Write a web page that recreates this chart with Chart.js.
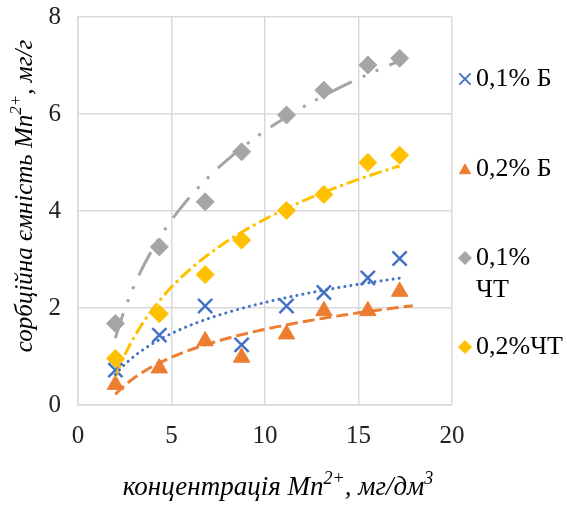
<!DOCTYPE html>
<html>
<head>
<meta charset="utf-8">
<script src="https://cdn.jsdelivr.net/npm/chart.js@4.4.0/dist/chart.umd.min.js"></script>
<style>
  html, body { margin: 0; padding: 0; background: #fff; }
  canvas { display: block; }
</style>
</head>
<body>
<canvas id="sorptionChart" width="567" height="509"></canvas>
<script>
// Mn2+ concentration, mg/dm3
const concentration = [2.0, 4.35, 6.8, 8.75, 11.15, 13.15, 15.5, 17.2];

// sorption capacity, mg/g
const b01  = [0.72, 1.44, 2.04, 1.24, 2.04, 2.32, 2.62, 3.02];
const b02  = [0.42, 0.76, 1.32, 0.98, 1.46, 1.94, 1.94, 2.34];
const ct01 = [1.68, 3.26, 4.19, 5.22, 5.98, 6.49, 7.01, 7.15];
const ct02 = [0.96, 1.88, 2.69, 3.40, 4.01, 4.34, 5.00, 5.15];

const seriesNames = ['0,1% Б', '0,2% Б', '0,1% ЧТ', '0,2%ЧТ'];
const legendLines = [['0,1% Б'], ['0,2% Б'], ['0,1%', 'ЧТ'], ['0,2%ЧТ']];

const xTicks = [0, 5, 10, 15, 20];
const yTicks = [0, 2, 4, 6, 8];

// trendline end points along x (orange one has a short forward forecast)
const trendFrom = [2.0, 2.0, 2.0, 2.0];
const trendTo   = [17.2, 17.9, 17.2, 17.2];

const FONT = '"Liberation Serif", "Times New Roman", serif';

const series = [
  { data: b01,  color: '#4472C4', style: 'crossRot', radius: 10,  dash: [0.1, 6],               cap: 'round' },
  { data: b02,  color: '#ED7D31', style: 'triangle', radius: 9.5, dash: [12, 5],                cap: 'butt' },
  { data: ct01, color: '#A5A5A5', style: 'rectRot',  radius: 9,   dash: [26, 12, 3, 11, 3, 12], cap: 'butt' },
  { data: ct02, color: '#FFC000', style: 'rectRot',  radius: 9,   dash: [13, 4, 3, 4],          cap: 'butt' },
];

// least squares fit y = a + b*ln(x), like a logarithmic trendline
function logFit(xs, ys) {
  const lx = xs.map(Math.log);
  const n = xs.length;
  const mx = lx.reduce((s, v) => s + v, 0) / n;
  const my = ys.reduce((s, v) => s + v, 0) / n;
  let sxy = 0, sxx = 0;
  for (let i = 0; i < n; i++) {
    sxy += (lx[i] - mx) * (ys[i] - my);
    sxx += (lx[i] - mx) * (lx[i] - mx);
  }
  const b = sxy / sxx;
  return { a: my - b * mx, b: b };
}

function trendCurve(fit, x0, x1) {
  const pts = [];
  const steps = 80;
  for (let i = 0; i <= steps; i++) {
    const x = x0 + (x1 - x0) * i / steps;
    pts.push({ x: x, y: fit.a + fit.b * Math.log(x) });
  }
  return pts;
}

const datasets = [];
series.forEach((s, i) => {
  datasets.push({
    label: seriesNames[i],
    data: concentration.map((x, k) => ({ x: x, y: s.data[k] })),
    pointStyle: s.style,
    pointRadius: s.radius,
    pointBackgroundColor: s.color,
    pointBorderColor: s.color,
    pointBorderWidth: s.style === 'crossRot' ? 2.5 : 1,
    showLine: false,
    order: 2,
  });
});
series.forEach((s, i) => {
  const fit = logFit(concentration, s.data);
  datasets.push({
    label: seriesNames[i] + ' trend',
    data: trendCurve(fit, trendFrom[i], trendTo[i]),
    showLine: true,
    pointRadius: 0,
    borderColor: s.color,
    borderWidth: 3,
    borderDash: s.dash,
    borderCapStyle: s.cap,
    tension: 0,
    order: 1,
  });
});

// text with superscript parts, e.g. Mn2+
function drawRich(ctx, parts, cx, cy, size) {
  const supSize = Math.round(size * 0.68);
  let total = 0;
  parts.forEach(p => {
    ctx.font = 'italic ' + (p.sup ? supSize : size) + 'px ' + FONT;
    p.w = ctx.measureText(p.t).width;
    total += p.w;
  });
  let x = cx - total / 2;
  ctx.textBaseline = 'middle';
  ctx.textAlign = 'left';
  parts.forEach(p => {
    ctx.font = 'italic ' + (p.sup ? supSize : size) + 'px ' + FONT;
    ctx.fillText(p.t, x, p.sup ? cy - size * 0.34 : cy);
    x += p.w;
  });
}

const axisTitles = {
  id: 'axisTitles',
  afterDraw(chart) {
    const ctx = chart.ctx;
    ctx.save();
    ctx.fillStyle = '#000';
    drawRich(ctx, [
      { t: 'концентрація Mn' }, { t: '2+', sup: true }, { t: ', мг/дм' }, { t: '3', sup: true }
    ], 278, 488, 27);
    ctx.translate(25, 196);
    ctx.rotate(-Math.PI / 2);
    drawRich(ctx, [
      { t: 'сорбційна ємність Mn' }, { t: '2+', sup: true }, { t: ', мг/г' }
    ], 0, 0, 25);
    ctx.restore();
  }
};

// y tick labels, right aligned a fixed gap left of the plot box
const yLabels = {
  id: 'yLabels',
  afterDraw(chart) {
    const ctx = chart.ctx;
    const scale = chart.scales.y;
    ctx.save();
    ctx.fillStyle = '#222';
    ctx.font = '25px ' + FONT;
    ctx.textAlign = 'right';
    ctx.textBaseline = 'middle';
    yTicks.forEach(v => {
      ctx.fillText(String(v), chart.chartArea.left - 17, scale.getPixelForValue(v));
    });
    ctx.restore();
  }
};

const sideLegend = {
  id: 'sideLegend',
  afterDraw(chart) {
    const ctx = chart.ctx;
    const rows = [79, 169, 258, 347];
    const lineGap = 32;
    ctx.save();
    series.forEach((s, i) => {
      const y = rows[i];
      ctx.fillStyle = s.color;
      ctx.strokeStyle = s.color;
      ctx.lineWidth = s.style === 'crossRot' ? 2 : 1;
      Chart.helpers.drawPoint(ctx, {
        pointStyle: s.style,
        radius: s.style === 'crossRot' ? 8 : 6.5,
        rotation: 0,
        borderWidth: ctx.lineWidth,
      }, 465, s.style === 'triangle' ? y + 1.5 : y);
      ctx.fillStyle = '#000';
      ctx.font = '26px ' + FONT;
      ctx.textAlign = 'left';
      ctx.textBaseline = 'middle';
      legendLines[i].forEach((line, k) => {
        ctx.fillText(line, 476, y + k * lineGap);
      });
    });
    ctx.restore();
  }
};

new Chart(document.getElementById('sorptionChart'), {
  type: 'scatter',
  data: { datasets: datasets },
  options: {
    responsive: false,
    animation: false,
    devicePixelRatio: 1,
    // plot box: left 78, top 17, right 452, bottom 405
    layout: { padding: { left: 48, right: 115, top: 17, bottom: 0 } },
    plugins: {
      legend: { display: false },
      tooltip: { enabled: false },
    },
    scales: {
      x: {
        type: 'linear',
        min: 0,
        max: 20,
        afterBuildTicks: scale => { scale.ticks = xTicks.map(v => ({ value: v })); },
        afterFit: scale => {
          scale.height = 104;
          scale.paddingLeft = 0;
          scale.paddingRight = 0;
        },
        grid: { color: '#d9d9d9', lineWidth: 1.5, drawTicks: false },
        border: { display: true, color: '#d9d9d9', width: 1.5 },
        ticks: { color: '#222', padding: 16, font: { family: FONT, size: 25 } },
      },
      y: {
        type: 'linear',
        min: 0,
        max: 8,
        afterBuildTicks: scale => { scale.ticks = yTicks.map(v => ({ value: v })); },
        afterFit: scale => {
          scale.width = 30;
          scale.paddingTop = 0;
          scale.paddingBottom = 0;
        },
        grid: { color: '#d9d9d9', lineWidth: 1.5, drawTicks: false },
        border: { display: true, color: '#d9d9d9', width: 1.5 },
        ticks: { display: false },
      },
    },
  },
  plugins: [axisTitles, yLabels, sideLegend],
});
</script>
</body>
</html>
